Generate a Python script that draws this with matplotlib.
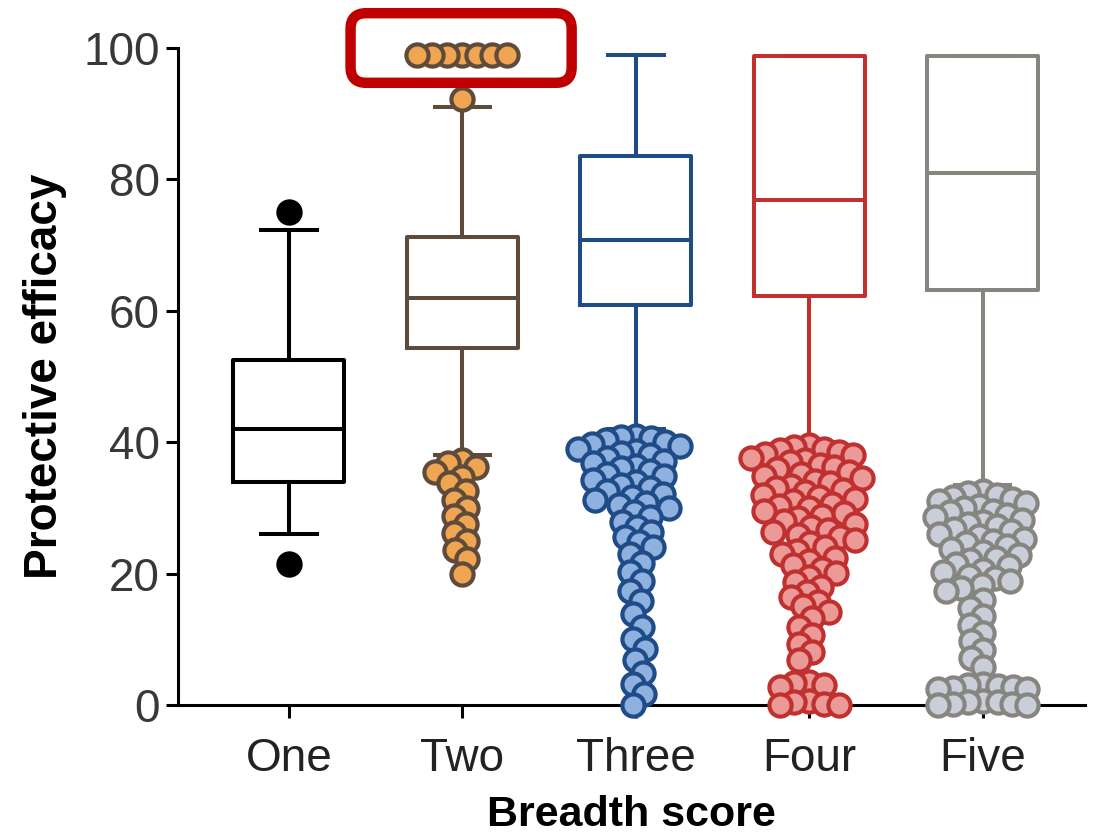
import numpy as np
import matplotlib
matplotlib.use("Agg")
import matplotlib.pyplot as plt
from matplotlib.patches import FancyBboxPatch

plt.rcParams['font.family'] = ['Liberation Sans', 'DejaVu Sans']

# --- data ---
groups = ["One", "Two", "Three", "Four", "Five"]

q1 = [34.0, 54.3, 60.9, 62.3, 63.2]
med = [42.0, 61.9, 70.8, 76.9, 81.0]
q3 = [52.5, 71.3, 83.6, 98.8, 98.8]
whis_lo = [26.0, 38.0, 42.0, 40.0, 33.5]
whis_hi = [72.3, 91.0, 99.0, 98.8, 98.8]

out_one = [75.0, 21.5]
out_two = [99.0, 99.0, 99.0, 99.0, 99.0, 99.0, 99.0, 92.2,
           37.3, 36.8, 36.3, 35.5, 34.7, 33.8, 32.5, 31.2, 30.0, 28.8,
           27.5, 26.2, 25.0, 23.6, 22.2, 20.0]
out_three = [41.0, 40.8, 40.6, 40.3, 40.0, 39.7, 39.4, 39.0, 38.7, 38.4,
             38.0, 37.6, 37.2, 36.8, 36.4, 36.0,
             35.6, 35.2, 34.8, 34.3, 33.9, 33.5, 33.0, 32.6, 32.1, 31.7,
             31.2, 30.8, 30.4, 30.0,
             29.4, 28.6, 27.9, 27.1, 26.3, 25.6, 24.8, 24.0,
             23.0, 21.6, 20.2, 18.8, 17.4,
             15.8, 13.8, 11.9, 10.0, 8.5, 6.8, 4.9, 3.2, 1.6, 0.0]
out_four = [39.5, 39.3, 39.0, 38.8, 38.5, 38.2, 38.0, 37.6, 37.3, 37.0,
            36.6, 36.2, 35.9, 35.5, 35.1,
            34.8, 34.5, 34.1, 33.8, 33.4, 33.0, 32.7, 32.4, 32.0, 31.7,
            31.3, 31.0, 30.6, 30.3, 30.0,
            29.6, 29.2, 28.8, 28.4, 28.0, 27.6, 27.1, 26.7, 26.3, 25.9,
            25.5, 25.1,
            24.6, 24.0, 23.5, 23.0, 22.4, 21.9, 21.3, 20.7, 20.1,
            19.5, 18.7, 18.0, 17.2, 16.5, 15.7, 15.0, 14.2,
            13.2, 11.9, 10.6, 9.3, 8.0, 6.8,
            3.5, 3.3, 3.0, 2.8, 0.6, 0.4, 0.2, 0.0, 0.0]
out_five = [32.5, 32.3, 32.0, 31.7, 31.4, 31.0, 30.7, 30.3, 30.0, 29.6,
            29.3, 28.9, 28.6, 28.2, 27.9, 27.5, 27.2, 26.8, 26.5, 26.1,
            25.7, 25.3, 25.0, 24.6, 24.2,
            23.8, 23.3, 22.9, 22.4, 22.0, 21.5, 21.1, 20.6, 20.2, 19.7,
            19.3, 18.8, 18.3, 17.8, 17.3,
            16.0, 14.8, 13.5, 12.2, 11.0, 9.7, 8.4, 7.1, 5.8,
            3.2, 3.0, 2.9, 2.8, 2.6, 2.5, 2.4,
            0.6, 0.5, 0.4, 0.2, 0.1, 0.0, 0.0]
outliers = [out_one, out_two, out_three, out_four, out_five]

edge_colors = ["#000000", "#5e4b3c", "#1f4c87", "#c0302f", "#86857f"]
fill_colors = ["#000000", "#f0a552", "#8fb1e0", "#eb9a98", "#c9ced8"]

# --- figure ---
fig = plt.figure(figsize=(10.97, 8.39), dpi=100)
ax = fig.add_axes([178 / 1097, 134 / 839, 907 / 1097, 657 / 839])
pos = np.arange(len(groups))
ax.set_xlim(-0.64, 4.59)
ax.set_ylim(0, 100)

stats = []
for i, g in enumerate(groups):
    stats.append(dict(label=g, med=med[i], q1=q1[i], q3=q3[i],
                      whislo=whis_lo[i], whishi=whis_hi[i], fliers=[]))
bp = ax.bxp(stats, positions=pos, widths=0.64, showfliers=False,
            patch_artist=False)
for i in range(len(groups)):
    c = edge_colors[i]
    bp['boxes'][i].set(color=c, linewidth=2.9)
    bp['medians'][i].set(color=c, linewidth=2.9)
    for k in (2 * i, 2 * i + 1):
        bp['whiskers'][k].set(color=c, linewidth=2.9)
        bp['caps'][k].set(color=c, linewidth=2.9)


# simple beeswarm in pixel space (overlap allowed)
def swarm(ypx, d):
    order = np.argsort(-ypx, kind="stable")
    placed = []
    xs = np.zeros(len(ypx))
    for i in order:
        y = ypx[i]
        forb = []
        for xj, yj in placed:
            dy = abs(y - yj)
            if dy < d:
                w = np.sqrt(d * d - dy * dy)
                forb.append((xj - w, xj + w))
        cands = [0.0] + [a for a, b in forb] + [b for a, b in forb]
        cands.sort(key=lambda v: (abs(v), v))
        x = 0.0
        for c in cands:
            if all(not (a + 1e-6 < c < b - 1e-6) for a, b in forb):
                x = c
                break
        placed.append((x, y))
        xs[i] = x
    return xs


fig.canvas.draw()
px_per_x = ax.transData.transform((1, 0))[0] - ax.transData.transform((0, 0))[0]
for i, vals in enumerate(outliers):
    vals = np.asarray(vals, dtype=float)
    ypx = ax.transData.transform(np.column_stack([np.zeros_like(vals), vals]))[:, 1]
    offs = swarm(ypx, 15.0) / px_per_x
    ax.scatter(pos[i] + offs, vals, s=255, facecolor=fill_colors[i],
               edgecolor=edge_colors[i], linewidth=3.0, zorder=3,
               clip_on=False)

# axes styling
for s in ("top", "right"):
    ax.spines[s].set_visible(False)
for s in ("left", "bottom"):
    ax.spines[s].set_linewidth(2.2)
ax.set_yticks([0, 20, 40, 60, 80, 100])
ax.set_xticks(pos)
ax.set_xticklabels(groups)
ax.tick_params(axis="y", labelsize=33, length=9, width=2.2, pad=4,
               labelcolor="#383838")
ax.tick_params(axis="x", labelsize=33, length=9, width=2.2, pad=14,
               labelcolor="#222222")
ax.set_ylabel("Protective efficacy", fontsize=33, fontweight="bold",
              labelpad=12)
ax.set_xlabel("Breadth score", fontsize=31, fontweight="bold", labelpad=10)

# red highlight frame around the top outliers of "Two"
aspect = (1 / 6.57) / (1 / px_per_x)
frame = FancyBboxPatch((0.355, 94.7), 1.63 - 0.355, 105.3 - 94.7,
                       boxstyle="round,pad=0,rounding_size=0.09",
                       mutation_aspect=aspect, fill=False,
                       edgecolor="#c00000", linewidth=7.5,
                       transform=ax.transData, clip_on=False, zorder=5)
ax.add_patch(frame)

fig.savefig("out.png", dpi=100)
